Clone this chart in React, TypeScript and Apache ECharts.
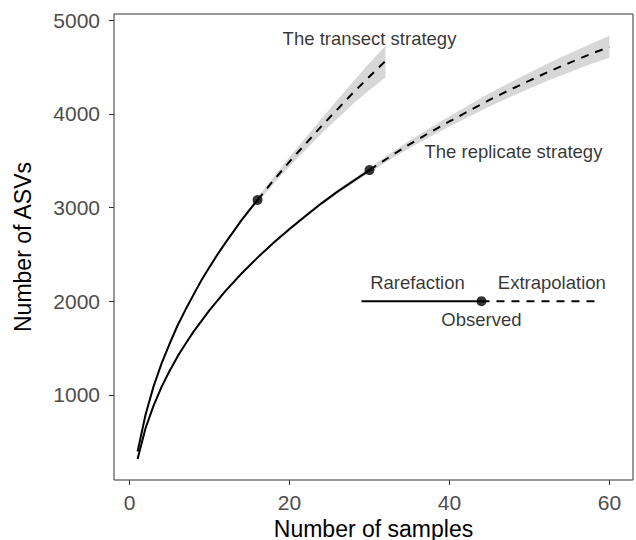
import React, { useEffect, useRef } from "react";
import * as echarts from "echarts";

// Transect strategy: rarefied (interpolated) part up to the observed 16 samples
const transectRareT = [1, 2, 3, 4, 5, 6, 7, 8, 9, 10, 11, 12, 13, 14, 15, 16];
const transectRareS = [395, 790, 1090, 1335, 1545, 1740, 1910, 2070, 2225, 2365, 2500, 2625, 2745, 2865, 2975, 3080];
// Transect strategy: extrapolated part up to 32 samples
const transectExtT = [16, 18, 20, 22, 24, 26, 28, 30, 32];
const transectExtS = [3080, 3290, 3490, 3680, 3870, 4050, 4230, 4400, 4565];
// Transect 95% confidence band
const transectBandT = [1, 2, 3, 4, 5, 6, 7, 8, 9, 10, 11, 12, 13, 14, 15, 16, 18, 20, 22, 24, 26, 28, 30, 32];
const transectBandLo = [395, 789, 1088, 1332, 1541, 1735, 1904, 2063, 2217, 2355, 2488, 2611, 2729, 2846, 2953, 3055, 3255, 3440, 3615, 3790, 3950, 4110, 4255, 4390];
const transectBandHi = [395, 791, 1092, 1338, 1549, 1745, 1916, 2077, 2233, 2375, 2512, 2639, 2761, 2884, 2997, 3105, 3325, 3540, 3745, 3950, 4150, 4350, 4545, 4725];

// Replicate strategy: rarefied part up to the observed 30 samples
const replicateRareT = [1, 2, 3, 4, 5, 6, 7, 8, 10, 12, 14, 16, 18, 20, 22, 24, 26, 28, 30];
const replicateRareS = [314, 645, 885, 1085, 1255, 1410, 1545, 1675, 1905, 2110, 2295, 2465, 2625, 2770, 2910, 3045, 3170, 3285, 3400];
// Replicate strategy: extrapolated part up to 60 samples
const replicateExtT = [30, 32.5, 35, 37.5, 40, 42.5, 45, 47.5, 50, 52.5, 55, 57.5, 60];
const replicateExtS = [3400, 3540, 3675, 3800, 3920, 4035, 4150, 4255, 4355, 4455, 4545, 4635, 4715];
// Replicate 95% confidence band
const replicateBandT = [1, 2, 3, 4, 5, 6, 7, 8, 10, 12, 14, 16, 18, 20, 22, 24, 26, 28, 30, 32.5, 35, 37.5, 40, 42.5, 45, 47.5, 50, 52.5, 55, 57.5, 60];
const replicateBandLo = [314, 644, 883, 1082, 1251, 1405, 1539, 1668, 1896, 2099, 2283, 2451, 2609, 2753, 2892, 3025, 3149, 3262, 3375, 3508, 3635, 3753, 3865, 3973, 4080, 4178, 4270, 4363, 4445, 4528, 4600];
const replicateBandHi = [314, 646, 887, 1088, 1259, 1415, 1551, 1682, 1914, 2121, 2307, 2479, 2641, 2787, 2928, 3065, 3191, 3308, 3425, 3572, 3715, 3847, 3975, 4097, 4220, 4332, 4440, 4547, 4645, 4742, 4835];

// Observed sample sizes / richness
const observedT = [16, 30];
const observedS = [3080, 3400];

// Line-type key
const keyRareT = [29, 44];
const keyExtT = [44, 59];
const keyLevel = 2000;

// Tick labels
const xTicks = [0, 20, 40, 60];
const yTicks = [1000, 2000, 3000, 4000, 5000];

const FONT = "'Liberation Sans', Arial, Helvetica, sans-serif";
const RIBBON = "#D7D7D7";

const zip = (xs: number[], ys: number[]) => xs.map((x, i) => [x, ys[i]]);

function bandSeries(t: number[], lo: number[], hi: number[]) {
  return {
    type: "custom",
    silent: true,
    z: 1,
    data: t.map((x, i) => [x, lo[i], hi[i]]),
    renderItem: (params: any, api: any) => {
      if (params.dataIndex !== 0) return null;
      const upper = t.map((x, i) => api.coord([x, hi[i]]));
      const lower = t.map((x, i) => api.coord([x, lo[i]])).reverse();
      return {
        type: "polygon",
        shape: { points: upper.concat(lower) },
        style: { fill: RIBBON, stroke: null },
      };
    },
    encode: { x: 0, y: [1, 2] },
  };
}

function curve(data: number[][], dashed: boolean) {
  return {
    type: "line",
    data,
    symbol: "none",
    smooth: false,
    silent: true,
    z: 3,
    lineStyle: {
      color: "#000",
      width: 2,
      type: dashed ? [8, 7] : "solid",
      cap: "butt",
      join: "round",
    },
  };
}

export default function App() {
  const ref = useRef<HTMLDivElement>(null);

  useEffect(() => {
    if (!ref.current) return;
    const chart = echarts.init(ref.current, undefined, { renderer: "svg" });
    const labelStyle = { fontFamily: FONT, fontSize: 18.5, color: "#000" };
    const plain = (v: number) => String(v);

    chart.setOption({
      animation: false,
      backgroundColor: "#fff",
      grid: {
        left: 114,
        right: 3,
        top: 14,
        bottom: 60,
        containLabel: false,
        outerBoundsMode: "none",
        show: true,
        borderColor: "#333",
        borderWidth: 1,
        backgroundColor: "transparent",
      },
      xAxis: {
        type: "value",
        min: -1.95,
        max: 62.95,
        name: "Number of samples",
        nameLocation: "middle",
        nameGap: 30,
        nameTextStyle: { fontFamily: FONT, fontSize: 23, lineHeight: 23, color: "#000" },
        axisLine: { show: false, onZero: false },
        axisTick: { show: true, length: 5, customValues: xTicks, lineStyle: { color: "#333" } },
        axisLabel: { customValues: xTicks, formatter: plain, fontFamily: FONT, fontSize: 21, color: "#4D4D4D", margin: 12 },
        splitLine: { show: false },
      },
      yAxis: {
        type: "value",
        min: 90,
        max: 5067,
        name: "Number of ASVs",
        nameLocation: "middle",
        nameGap: 80,
        nameTextStyle: { fontFamily: FONT, fontSize: 23, color: "#000" },
        axisLine: { show: false, onZero: false },
        axisTick: { show: true, length: 5, customValues: yTicks, lineStyle: { color: "#333" } },
        axisLabel: { customValues: yTicks, formatter: plain, fontFamily: FONT, fontSize: 21, color: "#4D4D4D", margin: 14 },
        splitLine: { show: false },
      },
      series: [
        bandSeries(transectBandT, transectBandLo, transectBandHi),
        bandSeries(replicateBandT, replicateBandLo, replicateBandHi),
        curve(zip(transectRareT, transectRareS), false),
        curve(zip(transectExtT, transectExtS), true),
        curve(zip(replicateRareT, replicateRareS), false),
        curve(zip(replicateExtT, replicateExtS), true),
        {
          type: "line",
          data: keyRareT.map((x) => [x, keyLevel]),
          symbol: "none",
          silent: true,
          z: 3,
          lineStyle: { color: "#000", width: 2, type: "solid" },
        },
        {
          type: "line",
          data: keyExtT.map((x) => [x, keyLevel]),
          symbol: "none",
          silent: true,
          z: 3,
          lineStyle: { color: "#000", width: 2, type: [8, 7], cap: "butt" },
        },
        {
          type: "scatter",
          data: zip(observedT, observedS).concat([[keyRareT[1], keyLevel]]),
          symbol: "circle",
          symbolSize: 10,
          silent: true,
          z: 4,
          itemStyle: { color: "#000" },
        },
        {
          type: "scatter",
          symbolSize: 0,
          silent: true,
          z: 5,
          itemStyle: { color: "transparent" },
          label: { show: true, position: "inside", formatter: "{b}", ...labelStyle },
          data: [
            { name: "The transect strategy", value: [30, 4800] },
            { name: "The replicate strategy", value: [48, 3600] },
            { name: "Rarefaction", value: [36, 2200] },
            { name: "Extrapolation", value: [52.8, 2200] },
            { name: "Observed", value: [44, 1800] },
          ],
        },
      ],
    });

    return () => chart.dispose();
  }, []);

  return (
    <div
      ref={ref}
      style={{ position: "absolute", left: 0, top: 0, width: 636, height: 540 }}
    />
  );
}
